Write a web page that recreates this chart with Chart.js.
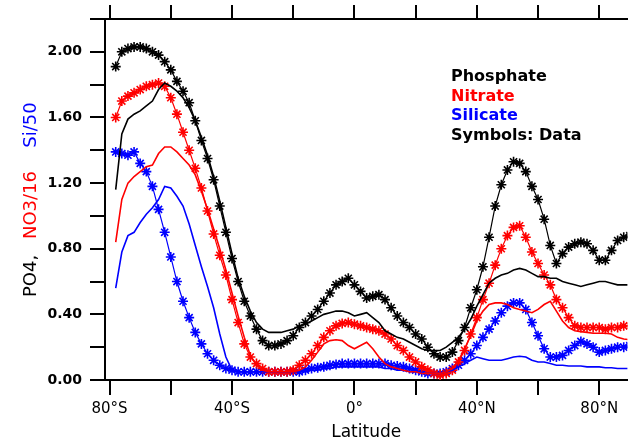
<!DOCTYPE html>
<html>
<head>
<meta charset="utf-8">
<script src="https://cdn.jsdelivr.net/npm/chart.js@4.4.0/dist/chart.umd.min.js"></script>
<style>
  body { margin: 0; background: #fff; }
  #wrap { width: 634px; height: 444px; }
</style>
</head>
<body>
<div id="wrap"><canvas id="nutrientChart" width="634" height="444"></canvas></div>
<script>
// latitude grid (degrees, south negative)
const lats = [-78, -76, -74, -72, -70, -68, -66, -64, -62, -60,
  -58, -56, -54, -52, -50, -48, -46, -44, -42, -40,
  -38, -36, -34, -32, -30, -28, -26, -24, -22, -20,
  -18, -16, -14, -12, -10, -8, -6, -4, -2, 0,
  2, 4, 6, 8, 10, 12, 14, 16, 18, 20,
  22, 24, 26, 28, 30, 32, 34, 36, 38, 40,
  42, 44, 46, 48, 50, 52, 54, 56, 58, 60,
  62, 64, 66, 68, 70, 72, 74, 76, 78, 80,
  82, 84, 86, 88, 90];

// symbols: data
const po4Data = [1.91, 2.00, 2.02, 2.03, 2.03, 2.02, 2.00, 1.98, 1.94, 1.89,
  1.82, 1.76, 1.69, 1.58, 1.46, 1.35, 1.22, 1.06, 0.90, 0.74,
  0.60, 0.48, 0.39, 0.31, 0.24, 0.21, 0.21, 0.22, 0.24, 0.27,
  0.32, 0.35, 0.39, 0.43, 0.48, 0.53, 0.58, 0.60, 0.62, 0.58,
  0.54, 0.50, 0.51, 0.52, 0.49, 0.44, 0.39, 0.35, 0.32, 0.28,
  0.25, 0.20, 0.16, 0.14, 0.14, 0.17, 0.24, 0.32, 0.44, 0.55,
  0.69, 0.87, 1.06, 1.19, 1.28, 1.33, 1.32, 1.27, 1.18, 1.10,
  0.98, 0.82, 0.71, 0.77, 0.81, 0.83, 0.84, 0.83, 0.79, 0.73,
  0.73, 0.79, 0.85, 0.87, 0.88];
const no3Data = [1.60, 1.70, 1.73, 1.75, 1.77, 1.79, 1.80, 1.81, 1.79, 1.72,
  1.62, 1.51, 1.40, 1.29, 1.17, 1.03, 0.89, 0.76, 0.64, 0.49,
  0.35, 0.22, 0.14, 0.10, 0.07, 0.05, 0.05, 0.05, 0.05, 0.06,
  0.09, 0.12, 0.16, 0.21, 0.26, 0.30, 0.33, 0.345, 0.35, 0.34,
  0.33, 0.32, 0.31, 0.30, 0.28, 0.25, 0.21, 0.18, 0.14, 0.11,
  0.08, 0.06, 0.04, 0.03, 0.04, 0.06, 0.11, 0.18, 0.28, 0.38,
  0.49, 0.59, 0.70, 0.80, 0.88, 0.93, 0.94, 0.87, 0.78, 0.71,
  0.64, 0.58, 0.49, 0.44, 0.38, 0.33, 0.32, 0.32, 0.32, 0.32,
  0.31, 0.32, 0.32, 0.33, 0.33];
const si50Data = [1.39, 1.38, 1.37, 1.39, 1.32, 1.27, 1.18, 1.04, 0.90, 0.75,
  0.60, 0.48, 0.38, 0.29, 0.22, 0.16, 0.12, 0.09, 0.07, 0.06,
  0.05, 0.05, 0.05, 0.05, 0.05, 0.05, 0.05, 0.05, 0.05, 0.05,
  0.05, 0.06, 0.07, 0.075, 0.08, 0.09, 0.095, 0.10, 0.10, 0.10,
  0.10, 0.10, 0.10, 0.10, 0.10, 0.09, 0.085, 0.08, 0.07, 0.06,
  0.05, 0.04, 0.04, 0.04, 0.05, 0.07, 0.09, 0.12, 0.16, 0.21,
  0.26, 0.31, 0.36, 0.41, 0.45, 0.47, 0.47, 0.43, 0.35, 0.27,
  0.19, 0.14, 0.14, 0.15, 0.18, 0.21, 0.235, 0.22, 0.20, 0.17,
  0.18, 0.19, 0.20, 0.20, 0.21];

// lines: model
const po4Model = [1.16, 1.50, 1.59, 1.62, 1.64, 1.67, 1.70, 1.77, 1.81, 1.79,
  1.76, 1.72, 1.66, 1.58, 1.48, 1.37, 1.24, 1.09, 0.93, 0.77,
  0.62, 0.51, 0.42, 0.35, 0.31, 0.29, 0.29, 0.29, 0.30, 0.31,
  0.33, 0.34, 0.36, 0.38, 0.40, 0.41, 0.42, 0.42, 0.41, 0.39,
  0.40, 0.41, 0.38, 0.35, 0.30, 0.28, 0.26, 0.25, 0.23, 0.21,
  0.19, 0.18, 0.18, 0.18, 0.20, 0.23, 0.26, 0.31, 0.37, 0.45,
  0.52, 0.59, 0.62, 0.64, 0.65, 0.67, 0.68, 0.67, 0.65, 0.63,
  0.63, 0.62, 0.62, 0.60, 0.59, 0.58, 0.57, 0.58, 0.59, 0.60,
  0.60, 0.59, 0.58, 0.58, 0.58];
const no3Model = [0.84, 1.10, 1.20, 1.24, 1.27, 1.30, 1.31, 1.38, 1.42, 1.42,
  1.39, 1.35, 1.31, 1.25, 1.15, 1.04, 0.92, 0.80, 0.67, 0.53,
  0.39, 0.26, 0.15, 0.09, 0.06, 0.05, 0.05, 0.05, 0.05, 0.05,
  0.06, 0.08, 0.12, 0.17, 0.22, 0.24, 0.245, 0.24, 0.21, 0.19,
  0.21, 0.23, 0.19, 0.14, 0.10, 0.08, 0.07, 0.06, 0.05, 0.05,
  0.04, 0.04, 0.04, 0.04, 0.05, 0.07, 0.12, 0.19, 0.27, 0.36,
  0.42, 0.46, 0.47, 0.47, 0.46, 0.44, 0.43, 0.42, 0.41, 0.43,
  0.46, 0.48, 0.42, 0.36, 0.32, 0.30, 0.295, 0.29, 0.285, 0.285,
  0.285, 0.28, 0.26, 0.25, 0.245];
const si50Model = [0.56, 0.78, 0.88, 0.90, 0.96, 1.01, 1.05, 1.10, 1.18, 1.17,
  1.12, 1.06, 0.95, 0.82, 0.69, 0.57, 0.44, 0.28, 0.14, 0.06,
  0.05, 0.05, 0.05, 0.05, 0.05, 0.05, 0.05, 0.05, 0.05, 0.05,
  0.05, 0.05, 0.06, 0.06, 0.07, 0.07, 0.08, 0.08, 0.08, 0.08,
  0.08, 0.08, 0.08, 0.08, 0.07, 0.07, 0.06, 0.06, 0.05, 0.05,
  0.04, 0.04, 0.04, 0.04, 0.05, 0.06, 0.08, 0.10, 0.12, 0.14,
  0.13, 0.12, 0.12, 0.12, 0.13, 0.14, 0.145, 0.14, 0.12, 0.11,
  0.11, 0.10, 0.09, 0.09, 0.085, 0.085, 0.085, 0.08, 0.08, 0.08,
  0.075, 0.075, 0.07, 0.07, 0.07];

const xTicks = [-80, -60, -40, -20, 0, 20, 40, 60, 80];
const xTickLabels = { '-80': '80°S', '-40': '40°S', '0': '0°', '40': '40°N', '80': '80°N' };
const yTicks = [0, 0.2, 0.4, 0.6, 0.8, 1.0, 1.2, 1.4, 1.6, 1.8, 2.0, 2.2];
const yTickLabels = [0, 0.4, 0.8, 1.2, 1.6, 2.0];
const legendItems = [
  ['Phosphate', '#000000'],
  ['Nitrate', '#ff0000'],
  ['Silicate', '#0000ff'],
  ['Symbols: Data', '#000000']
];
const yTitleParts = [
  ['PO4,', '#000000', 276],
  ['NO3/16', '#ff0000', 205],
  ['Si/50', '#0000ff', 125]
];

function toPoints(vals) {
  return lats.map((lat, i) => ({ x: lat, y: vals[i] }));
}

function modelSet(vals, color) {
  return {
    data: toPoints(vals),
    showLine: true,
    borderColor: color,
    borderWidth: 1.6,
    pointRadius: 0,
    tension: 0
  };
}

function dataSet(vals, color) {
  return {
    data: toPoints(vals),
    showLine: true,
    borderColor: color,
    borderWidth: 1.2,
    pointStyle: 'star',
    pointRadius: 5,
    pointBorderWidth: 1.6,
    pointBorderColor: color,
    pointBackgroundColor: color,
    tension: 0
  };
}

const overlay = {
  id: 'overlay',
  afterDraw(chart) {
    const ctx = chart.ctx;
    ctx.save();
    ctx.font = 'bold 16px "DejaVu Sans"';
    ctx.textAlign = 'left';
    ctx.textBaseline = 'middle';
    const ys = [77, 97, 116, 136];
    legendItems.forEach((item, i) => {
      ctx.fillStyle = item[1];
      ctx.fillText(item[0], 451, ys[i]);
    });

    ctx.font = '18px "DejaVu Sans"';
    ctx.textAlign = 'center';
    yTitleParts.forEach(part => {
      ctx.save();
      ctx.translate(31, part[2]);
      ctx.rotate(-Math.PI / 2);
      ctx.fillStyle = part[1];
      ctx.fillText(part[0], 0, 0);
      ctx.restore();
    });
    ctx.restore();
  }
};

const ctx = document.getElementById('nutrientChart').getContext('2d');

new Chart(ctx, {
  type: 'scatter',
  data: {
    datasets: [
      modelSet(po4Model, '#000000'),
      modelSet(no3Model, '#ff0000'),
      modelSet(si50Model, '#0000ff'),
      dataSet(po4Data, '#000000'),
      dataSet(no3Data, '#ff0000'),
      dataSet(si50Data, '#0000ff')
    ]
  },
  options: {
    responsive: false,
    animation: false,
    devicePixelRatio: 1,
    layout: { padding: 0 },
    plugins: {
      legend: { display: false },
      tooltip: { enabled: false }
    },
    scales: {
      x: {
        type: 'linear',
        position: 'bottom',
        min: -81.5,
        max: 89.2,
        afterBuildTicks: s => { s.ticks = xTicks.map(v => ({ value: v })); },
        afterFit: s => { s.height = 64; },
        grid: { drawOnChartArea: false, tickLength: 15, lineWidth: 2, color: '#000' },
        border: { color: '#000', width: 2 },
        ticks: {
          padding: 5,
          color: '#000',
          maxRotation: 0,
          autoSkip: false,
          font: { family: 'DejaVu Sans', size: 15 },
          callback: v => xTickLabels[v] ?? ''
        },
        title: {
          display: true,
          text: 'Latitude',
          color: '#000',
          font: { family: 'DejaVu Sans', size: 17 },
          padding: { top: 0, bottom: 1 }
        }
      },
      xTop: {
        type: 'linear',
        position: 'top',
        display: true,
        min: -81.5,
        max: 89.2,
        afterBuildTicks: s => { s.ticks = xTicks.map(v => ({ value: v })); },
        afterFit: s => { s.height = 19; },
        grid: { drawOnChartArea: false, tickLength: 14, lineWidth: 2, color: '#000' },
        border: { color: '#000', width: 2 },
        ticks: { display: false }
      },
      y: {
        type: 'linear',
        position: 'left',
        min: 0,
        max: 2.2,
        afterBuildTicks: s => { s.ticks = yTicks.map(v => ({ value: v })); },
        afterFit: s => { s.width = 105; },
        grid: { drawOnChartArea: false, tickLength: 15, lineWidth: 2, color: '#000' },
        border: { color: '#000', width: 2 },
        ticks: {
          padding: 8,
          color: '#000',
          font: { family: 'DejaVu Sans', size: 14, weight: 'bold' },
          callback: v => yTickLabels.some(l => Math.abs(l - v) < 1e-6) ? v.toFixed(2) : ''
        }
      }
    }
  },
  plugins: [overlay]
});
</script>
</body>
</html>
